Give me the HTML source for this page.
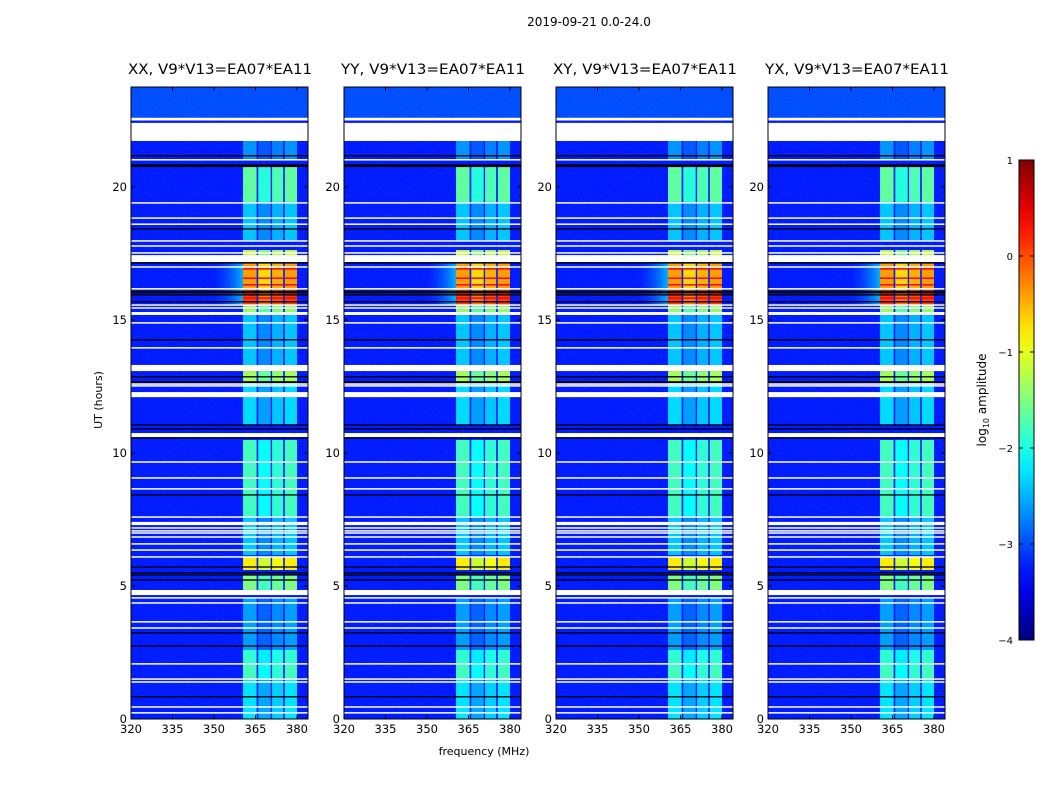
<!DOCTYPE html>
<html><head><meta charset="utf-8"><style>
body{margin:0;background:#fff;font-family:"DejaVu Sans",sans-serif}
svg text{font-family:"DejaVu Sans",sans-serif}
</style></head><body>
<svg id="fig" width="1050" height="800" viewBox="0 0 1050 800">
<defs>
<filter id="nz" x="0" y="0" width="100%" height="100%">
<feTurbulence type="fractalNoise" baseFrequency="0.9" numOctaves="1" seed="3"/>
<feColorMatrix type="matrix" values="0 0 0 0 0.1  0 0 0 0 0.45  0 0 0 0 1  0 0 0 2.2 -1.2"/>
</filter>
<linearGradient id="cbg" x1="0" y1="1" x2="0" y2="0"></linearGradient>
</defs>
<text x="589" y="26" font-size="12" text-anchor="middle">2019-09-21 0.0-24.0</text>
<text x="484" y="755" font-size="11" text-anchor="middle">frequency (MHz)</text>
<text transform="translate(102,400) rotate(-90)" font-size="11" text-anchor="middle">UT (hours)</text>
<g id="panels"></g>
<g id="cbar"></g>
</svg>
<script>
const panelTitles=["XX, V9*V13=EA07*EA11","YY, V9*V13=EA07*EA11","XY, V9*V13=EA07*EA11","YX, V9*V13=EA07*EA11"];
const panelLeft=[131,344,556,768];
const xTicks=[320,335,350,365,380];
const yTicks=[0,5,10,15,20];
const cbTicks=[1,0,-1,-2,-3,-4];
const subbands=[[360.5,365.4],[366,370.5],[371,375],[375.6,380]];
const subbandOffset=[0.02,-0.04,0.0,0.02];
const bandSeg=[[21.0,21.73,0.25],[19.4,20.75,0.45],[18.0,19.4,0.3],[17.18,17.63,0.55],[16.13,17.14,0.7],[15.56,16.13,0.8],[15.19,15.56,0.5],[13.31,15.19,0.3],[12.63,13.08,0.52],[11.05,12.63,0.32],[7.59,10.49,0.42],[6.16,7.59,0.3],[5.6,6.09,0.62],[4.85,5.41,0.48],[2.6,4.55,0.26],[2.03,2.6,0.4],[1.47,2.03,0.42],[0,1.47,0.33]];
const bgSeg=[[0,22.6,0.15],[22.6,23.76,0.2]];
const whiteGaps=[[22.5,22.6],[21.73,22.41],[21.0,21.05],[19.38,19.43],[18.81,18.86],[18.58,18.63],[17.95,18.0],[17.76,17.81],[17.5,17.55],[17.18,17.44],[16.97,17.02],[16.15,16.2],[15.54,15.59],[15.43,15.48],[15.19,15.3],[14.87,14.92],[13.93,13.98],[13.08,13.31],[12.57,12.62],[12.5,12.55],[12.1,12.29],[10.6,10.75],[9.64,9.69],[9.04,9.09],[8.63,8.68],[7.57,7.62],[7.29,7.41],[7.16,7.21],[7.05,7.1],[6.97,7.02],[6.82,6.87],[6.56,6.61],[6.33,6.38],[6.07,6.12],[4.66,4.85],[4.53,4.58],[4.34,4.39],[3.63,3.68],[3.4,3.45],[2.05,2.1],[1.48,1.53],[1.37,1.42],[0.43,0.48],[0.21,0.26]];
const blackLines=[[21.15,21.2],[20.75,20.85],[18.4,18.45],[17.12,17.17],[16.0,16.1],[15.92,15.97],[15.66,15.71],[14.23,14.28],[12.84,12.89],[12.63,12.7],[11.03,11.08],[10.88,10.93],[10.54,10.59],[8.4,8.45],[5.69,5.74],[5.47,5.52],[5.39,5.44],[5.2,5.25],[3.21,3.26],[2.72,2.77],[0.81,0.86]];
const redLines=[16.95,16.6,16.35,15.85];
const glowRange=[15.56,17.14];

const NS="http://www.w3.org/2000/svg";
function el(t,a,p){const e=document.createElementNS(NS,t);for(const k in a)e.setAttribute(k,a[k]);p.appendChild(e);return e;}
function cl(v){return Math.max(0,Math.min(1,v));}
function jet(v){v=cl(v);const r=cl(1.5-Math.abs(4*v-3)),g=cl(1.5-Math.abs(4*v-2)),b=cl(1.5-Math.abs(4*v-1));return `rgb(${Math.round(r*255)},${Math.round(g*255)},${Math.round(b*255)})`;}
const yTop=87,bot=719,pw=177;
const yS=h=>bot-h*26.6;
const root=document.getElementById('panels');
panelLeft.forEach((L,pi)=>{
  const xS=f=>L+(f-320)*41.5/15;
  const g=el('g',{},root);
  
  
  el('clipPath',{id:'cp'+pi},g);
  el('rect',{x:L,y:yTop,width:pw,height:bot-yTop},g.lastChild);
  const img=el('g',{'clip-path':`url(#cp${pi})`},g);
  bgSeg.forEach(s=>{const r=el('rect',{x:L,y:yS(s[1]),width:pw,height:yS(s[0])-yS(s[1]),fill:jet(s[2])},img);
    
    });
  const gl=el('linearGradient',{id:'gl'+pi,x1:0,x2:1,y1:0,y2:0},g);
  el('stop',{offset:0,'stop-color':jet(0.15),'stop-opacity':0},gl);
  el('stop',{offset:1,'stop-color':jet(0.3)},gl);
  el('rect',{x:xS(348),y:yS(glowRange[1]),width:xS(360.5)-xS(348),height:yS(glowRange[0])-yS(glowRange[1]),fill:`url(#gl${pi})`},img);
  bandSeg.forEach(s=>{
    subbands.forEach((sb,j)=>{
      const r=el('rect',{x:xS(sb[0]),y:yS(s[1]),width:xS(sb[1])-xS(sb[0]),height:yS(s[0])-yS(s[1]),fill:jet(s[2]+subbandOffset[j])},img);
      
      
    });
  });
  redLines.forEach(h=>{subbands.forEach(sb=>{const r=el('rect',{x:xS(sb[0]),y:yS(h),width:xS(sb[1])-xS(sb[0]),height:1.5,fill:jet(0.88)},img);
    
    });});
  el('rect',{x:L,y:yTop,width:pw,height:bot-yTop,filter:'url(#nz)',opacity:0.4},img);
  blackLines.forEach(s=>{const r=el('rect',{x:L,y:yS(s[1]),width:pw,height:Math.max(1,yS(s[0])-yS(s[1])),fill:'#000'},img);
    
    });
  whiteGaps.forEach(s=>{const r=el('rect',{x:L,y:yS(s[1]),width:pw,height:Math.max(1.5,yS(s[0])-yS(s[1])),fill:'#fff'},img);
    
    });
  el('rect',{x:L,y:yTop,width:pw,height:bot-yTop,fill:'none',stroke:'#000','stroke-width':1},g);
  const t=el('text',{x:L-3,y:74,'font-size':14,textLength:184,lengthAdjust:'spacingAndGlyphs'},g);t.textContent=panelTitles[pi];
  
  
  xTicks.forEach(v=>{const x=xS(v);el('line',{x1:x,x2:x,y1:bot,y2:bot-4,stroke:'#000'},g);el('line',{x1:x,x2:x,y1:yTop,y2:yTop+4,stroke:'#000'},g);
    const tx=el('text',{x:x,y:bot+14,'font-size':11.5,'text-anchor':'middle'},g);tx.textContent=v;
    
    });
  yTicks.forEach(v=>{const y=yS(v);el('line',{x1:L,x2:L+4,y1:y,y2:y,stroke:'#000'},g);el('line',{x1:L+pw,x2:L+pw-4,y1:y,y2:y,stroke:'#000'},g);
    const ty=el('text',{x:L-4,y:y+4,'font-size':11.5,'text-anchor':'end'},g);ty.textContent=v;
    
    });
});
const grad=document.getElementById('cbg');
for(let i=0;i<=20;i++)el('stop',{offset:i/20,'stop-color':jet(i/20)},grad);
const cb=document.getElementById('cbar');
const cbY=v=>640-(v+4)*96;
el('rect',{x:1019,y:160,width:15,height:480,fill:'url(#cbg)',stroke:'#000'},cb);
cbTicks.forEach(v=>{const y=cbY(v);el('line',{x1:1019,x2:1023,y1:y,y2:y,stroke:'#000'},cb);el('line',{x1:1034,x2:1030,y1:y,y2:y,stroke:'#000'},cb);
  const t=el('text',{x:1013,y:y+4,'font-size':10,'text-anchor':'end'},cb);t.textContent=v<0?'\u2212'+(-v):v;
  
  });
const lab=el('text',{transform:'translate(986,400) rotate(-90)','font-size':12,'text-anchor':'middle'},cb);
lab.innerHTML='log<tspan font-size="8" dy="3">10</tspan><tspan dy="-3"> amplitude</tspan>';


</script>
</body></html>
